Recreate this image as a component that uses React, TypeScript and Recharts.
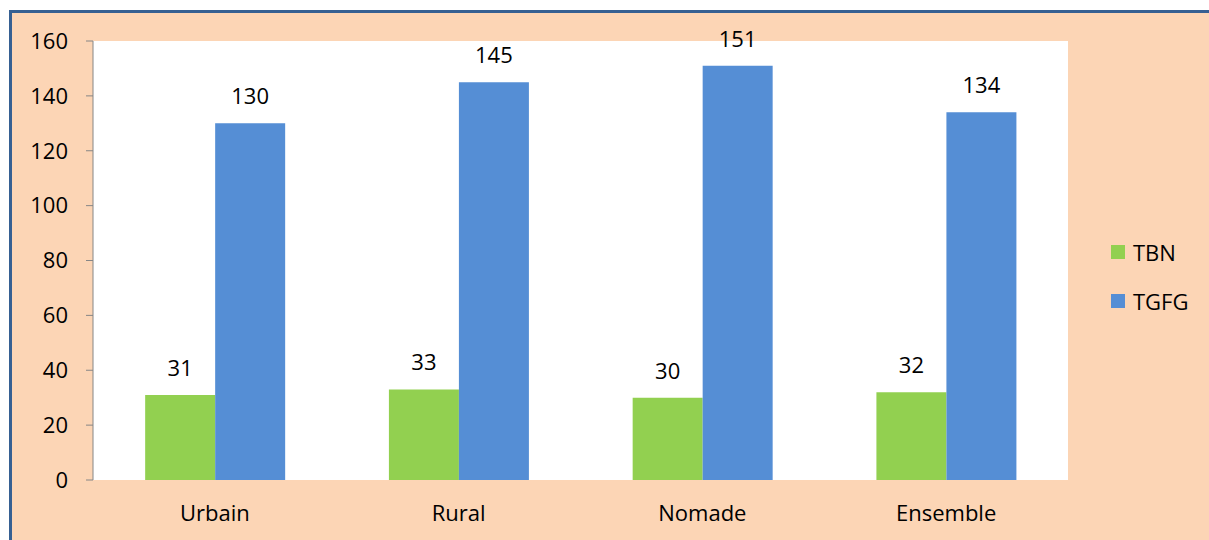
import { BarChart, Bar, XAxis, YAxis, CartesianGrid, Legend, LabelList } from 'recharts'

const zones = ['Urbain', 'Rural', 'Nomade', 'Ensemble']
const tbn = [31, 33, 30, 32]
const tgfg = [130, 145, 151, 134]
const yTicks = [0, 20, 40, 60, 80, 100, 120, 140, 160]
const bandEdges = [0, 1, 2, 3, 4]

const data = zones.map((name, i) => ({ name, TBN: tbn[i], TGFG: tgfg[i] }))

const font = '"Open Sans", Lato, sans-serif'
const fontSize = 22
const axisGrey = '#868686'

const renderLegend = (props: any) => (
	<div style={{ fontFamily: font, fontSize, color: '#000' }}>
		{props.payload.map((item: any) => (
			<div key={item.value} style={{ display: 'flex', alignItems: 'center', height: 49 }}>
				<span style={{ width: 14, height: 14, background: item.color, marginRight: 8 }} />
				<span>{item.value}</span>
			</div>
		))}
	</div>
)

const App = () => {
	return (
		<div
			style={{
				position: 'absolute',
				left: 0,
				top: 0,
				width: 1209,
				height: 540,
				overflow: 'hidden',
				background: '#fff',
			}}
		>
			<div
				style={{
					position: 'absolute',
					left: 9,
					top: 10,
					width: 1300,
					height: 600,
					background: '#FCD5B5',
					borderLeft: '3px solid #366092',
					borderTop: '3px solid #366092',
				}}
			/>
			<div style={{ position: 'absolute', left: 0, top: 0 }}>
				<BarChart
					width={1209}
					height={540}
					data={data}
					barCategoryGap="21.4%"
					barGap={0}
					margin={{ top: 41, right: 41, left: 0, bottom: 0 }}
					style={{ fontFamily: font }}
				>
					<CartesianGrid fill="#ffffff" horizontal={false} vertical={false} />
					{/* tick marks sit on the category boundaries */}
					<XAxis
						xAxisId={1}
						type="number"
						domain={[0, 4]}
						ticks={bandEdges}
						height={0}
						tick={false}
						tickSize={7}
						stroke={axisGrey}
						tickLine={{ stroke: axisGrey }}
						axisLine={{ stroke: axisGrey }}
					/>
					<XAxis
						dataKey="name"
						height={60}
						axisLine={false}
						tickLine={false}
						tickSize={7}
						tickMargin={18}
						tick={{ fill: '#000', fontSize }}
					/>
					<YAxis
						width={93}
						domain={[0, 160]}
						ticks={yTicks}
						interval={0}
						tickSize={7}
						tickMargin={18}
						stroke={axisGrey}
						tick={{ fill: '#000', fontSize }}
					/>
					<Legend
						layout="vertical"
						align="right"
						verticalAlign="middle"
						content={renderLegend}
						wrapperStyle={{ left: 1111, top: 227, width: 100 }}
					/>
					<Bar dataKey="TBN" fill="#92D050" isAnimationActive={false}>
						<LabelList dataKey="TBN" position="top" offset={19} fill="#000" fontSize={fontSize} />
					</Bar>
					<Bar dataKey="TGFG" fill="#558ED5" isAnimationActive={false}>
						<LabelList dataKey="TGFG" position="top" offset={19} fill="#000" fontSize={fontSize} />
					</Bar>
				</BarChart>
			</div>
		</div>
	)
}

export default App
